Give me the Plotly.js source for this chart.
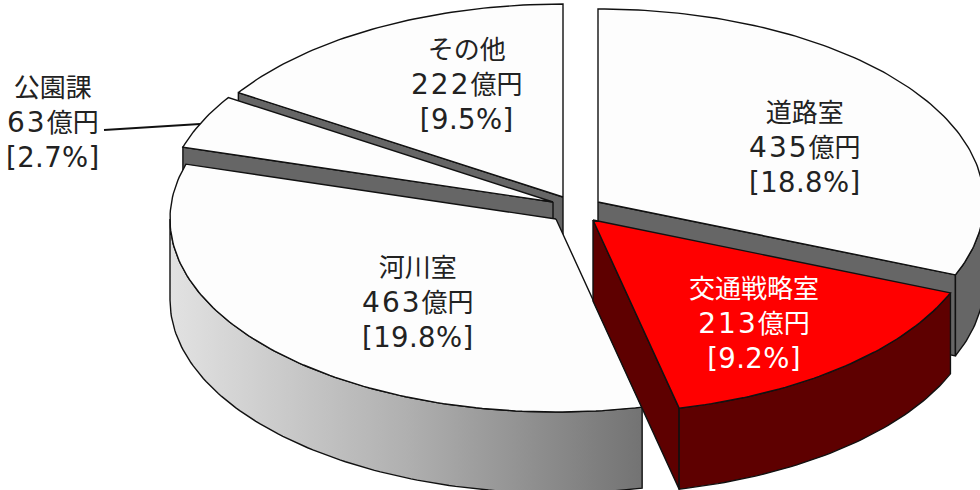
<!DOCTYPE html>
<html><head><meta charset="utf-8">
<script src="https://cdn.plot.ly/plotly-3.0.1.min.js"></script>
<style>html,body{margin:0;padding:0;background:#fff;overflow:hidden}#c{width:980px;height:490px}</style>
</head><body><div id="c"></div>
<script>
// Data, in slice order clockwise from the top
const categories = ['道路室','交通戦略室','河川室','公園課','その他'];
const amounts    = [435,213,463,63,222];
const shares     = ['18.8','9.2','19.8','2.7','9.5'];
const unit = '億円';

// Style and layout of the slices
const topColors  = ['#fdfdfd','#ff0000','#fdfdfd','#fdfdfd','#fdfdfd'];
const wallColors = ['#666666','#5e0000','#666666','#666666','#666666'];
const apexX = [598,593,556,553,563];
const apexY = [202,220,219,202,197];
const labelX = [805,754,418,53,466];
const labelY = [148,324,303,123,85];
const labelColors = ['#222','#fff','#222','#222','#222'];
const drawOrder = [4,3,2,0,1];
const RX = 386, RY = 193, DEPTH = 81;
const EDGE = {color:'#111', width:1.4};

const total = amounts.reduce((a,b)=>a+b,0);
let acc = 0;
const spans = amounts.map(v=>{const s=acc; acc+=v/total*360; return [s,acc];});
const rad = d=>d*Math.PI/180;
const px = (i,d)=>apexX[i]+RX*Math.sin(rad(d));
const py = (i,d)=>apexY[i]-RY*Math.cos(rad(d));

function poly(xs,ys,fill,extra){
  return Object.assign({type:'scatter',mode:'lines',x:xs.concat(xs[0]),y:ys.concat(ys[0]),
    fill:'toself',fillcolor:fill,line:EDGE,hoverinfo:'skip',showlegend:false},extra||{});
}
function arc(i,a,b,dy){
  const xs=[],ys=[]; const n=Math.max(2,Math.ceil(Math.abs(b-a)));
  for(let k=0;k<=n;k++){const d=a+(b-a)*k/n; xs.push(px(i,d)); ys.push(py(i,d)+dy);}
  return [xs,ys];
}
const traces=[];
drawOrder.forEach(i=>{
  const [s,e]=spans[i];
  const face=d=>poly([apexX[i],px(i,d),px(i,d),apexX[i]],
    [apexY[i],py(i,d),py(i,d)+DEPTH,apexY[i]+DEPTH],wallColors[i]);
  // cut faces that look toward the viewer
  if(Math.cos(rad(s-90))<-1e-6) traces.push(face(s));
  if(Math.cos(rad(e+90))<-1e-6) traces.push(face(e));
  // outer rim, front half only
  const a=Math.max(s,90), b=Math.min(e,270);
  if(b>a){
    const [x1,y1]=arc(i,a,b,0), [x2,y2]=arc(i,b,a,DEPTH);
    const extra = categories[i]==='河川室'
      ? {fillgradient:{type:'horizontal',start:170,stop:642,
          colorscale:[[0,'#e2e2e2'],[0.5,'#b0b0b0'],[1,'#737373']]}} : {};
    traces.push(poly(x1.concat(x2),y1.concat(y2),wallColors[i],extra));
  }
  // top face
  const [tx,ty]=arc(i,s,e,0);
  traces.push(poly([apexX[i]].concat(tx),[apexY[i]].concat(ty),topColors[i]));
});

const kana = t=>'<span style="font-size:26px">'+t+'</span>';
const num  = t=>'<span style="font-size:28px;letter-spacing:2px">'+t+'</span>';
const pct  = t=>'<span style="font-size:27.5px;letter-spacing:0.4px">'+t+'</span>';
const annotations = categories.map((c,i)=>({
  x:labelX[i],y:labelY[i],xref:'x',yref:'y',showarrow:false,align:'center',
  text:kana(c)+'<br>'+num(amounts[i])+kana(unit)+'<br>'+pct('['+shares[i]+'%]'),
  font:{family:'"DejaVu Sans","Noto Sans CJK JP",sans-serif',size:27,color:labelColors[i]}
}));

Plotly.newPlot('c',traces,{
  width:980,height:490,margin:{l:0,r:0,t:0,b:0},showlegend:false,
  paper_bgcolor:'#fff',plot_bgcolor:'#fff',
  xaxis:{range:[0,980],visible:false,fixedrange:true},
  yaxis:{range:[490,0],visible:false,fixedrange:true},
  annotations,
  shapes:[{type:'line',xref:'x',yref:'y',x0:104,y0:130,x1:200,y1:124,line:{color:'#111',width:1.8}}]
},{displayModeBar:false,staticPlot:true});
</script></body></html>
